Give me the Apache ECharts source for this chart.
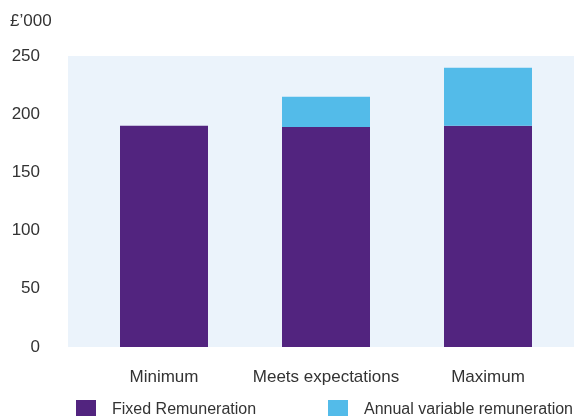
<!DOCTYPE html>
<html>
<head>
<meta charset="utf-8">
<script src="https://cdn.jsdelivr.net/npm/echarts@6/dist/echarts.min.js"></script>
<style>html,body{margin:0;padding:0;background:#fff}#c{width:574px;height:416px}</style>
</head>
<body>
<div id="c"></div>
<script>
var categories = ['Minimum', 'Meets expectations', 'Maximum'];
var fixedRemuneration = [190, 189, 190];
var annualVariable = [0, 26, 50];
var yTicks = {min: 0, max: 250, interval: 50};
var unitLabel = '£\u2019000';

var chart = echarts.init(document.getElementById('c'));
var font = 'Liberation Sans, Arial, sans-serif';
chart.setOption({
  animation: false,
  title: {text: unitLabel, left: 10, top: 13, padding: 0, textStyle: {fontSize: 17, fontWeight: 'normal', color: '#333', fontFamily: font}},
  graphic: [{type: 'rect', z: -10, shape: {x: 68, y: 56, width: 506, height: 291}, style: {fill: '#ebf3fb'}}],
  grid: {left: 83, right: 5, top: 56, bottom: 69},
  legend: [
    {data: ['Fixed Remuneration'], left: 76, top: 400, padding: 0, itemWidth: 20, itemHeight: 20, icon: 'rect',
     textStyle: {fontSize: 16, color: '#333', fontFamily: font, padding: [0, 0, 0, 11]}},
    {data: ['Annual variable remuneration'], left: 328, top: 400, padding: 0, itemWidth: 20, itemHeight: 20, icon: 'rect',
     textStyle: {fontSize: 16, color: '#333', fontFamily: font, padding: [0, 0, 0, 11]}}
  ],
  xAxis: {type: 'category', data: categories, axisLine: {show: false}, axisTick: {show: false},
    axisLabel: {interval: 0, margin: 22, fontSize: 17, color: '#333', fontFamily: font}},
  yAxis: {type: 'value', min: yTicks.min, max: yTicks.max, interval: yTicks.interval,
    splitLine: {show: false}, axisLine: {show: false}, axisTick: {show: false},
    axisLabel: {margin: 43, fontSize: 17, color: '#333', fontFamily: font}},
  series: [
    {name: 'Fixed Remuneration', type: 'bar', stack: 's', data: fixedRemuneration, barWidth: 88, itemStyle: {color: '#52247f'}},
    {name: 'Annual variable remuneration', type: 'bar', stack: 's', data: annualVariable, barWidth: 88, itemStyle: {color: '#53bbe9'}}
  ]
});
</script>
</body>
</html>
